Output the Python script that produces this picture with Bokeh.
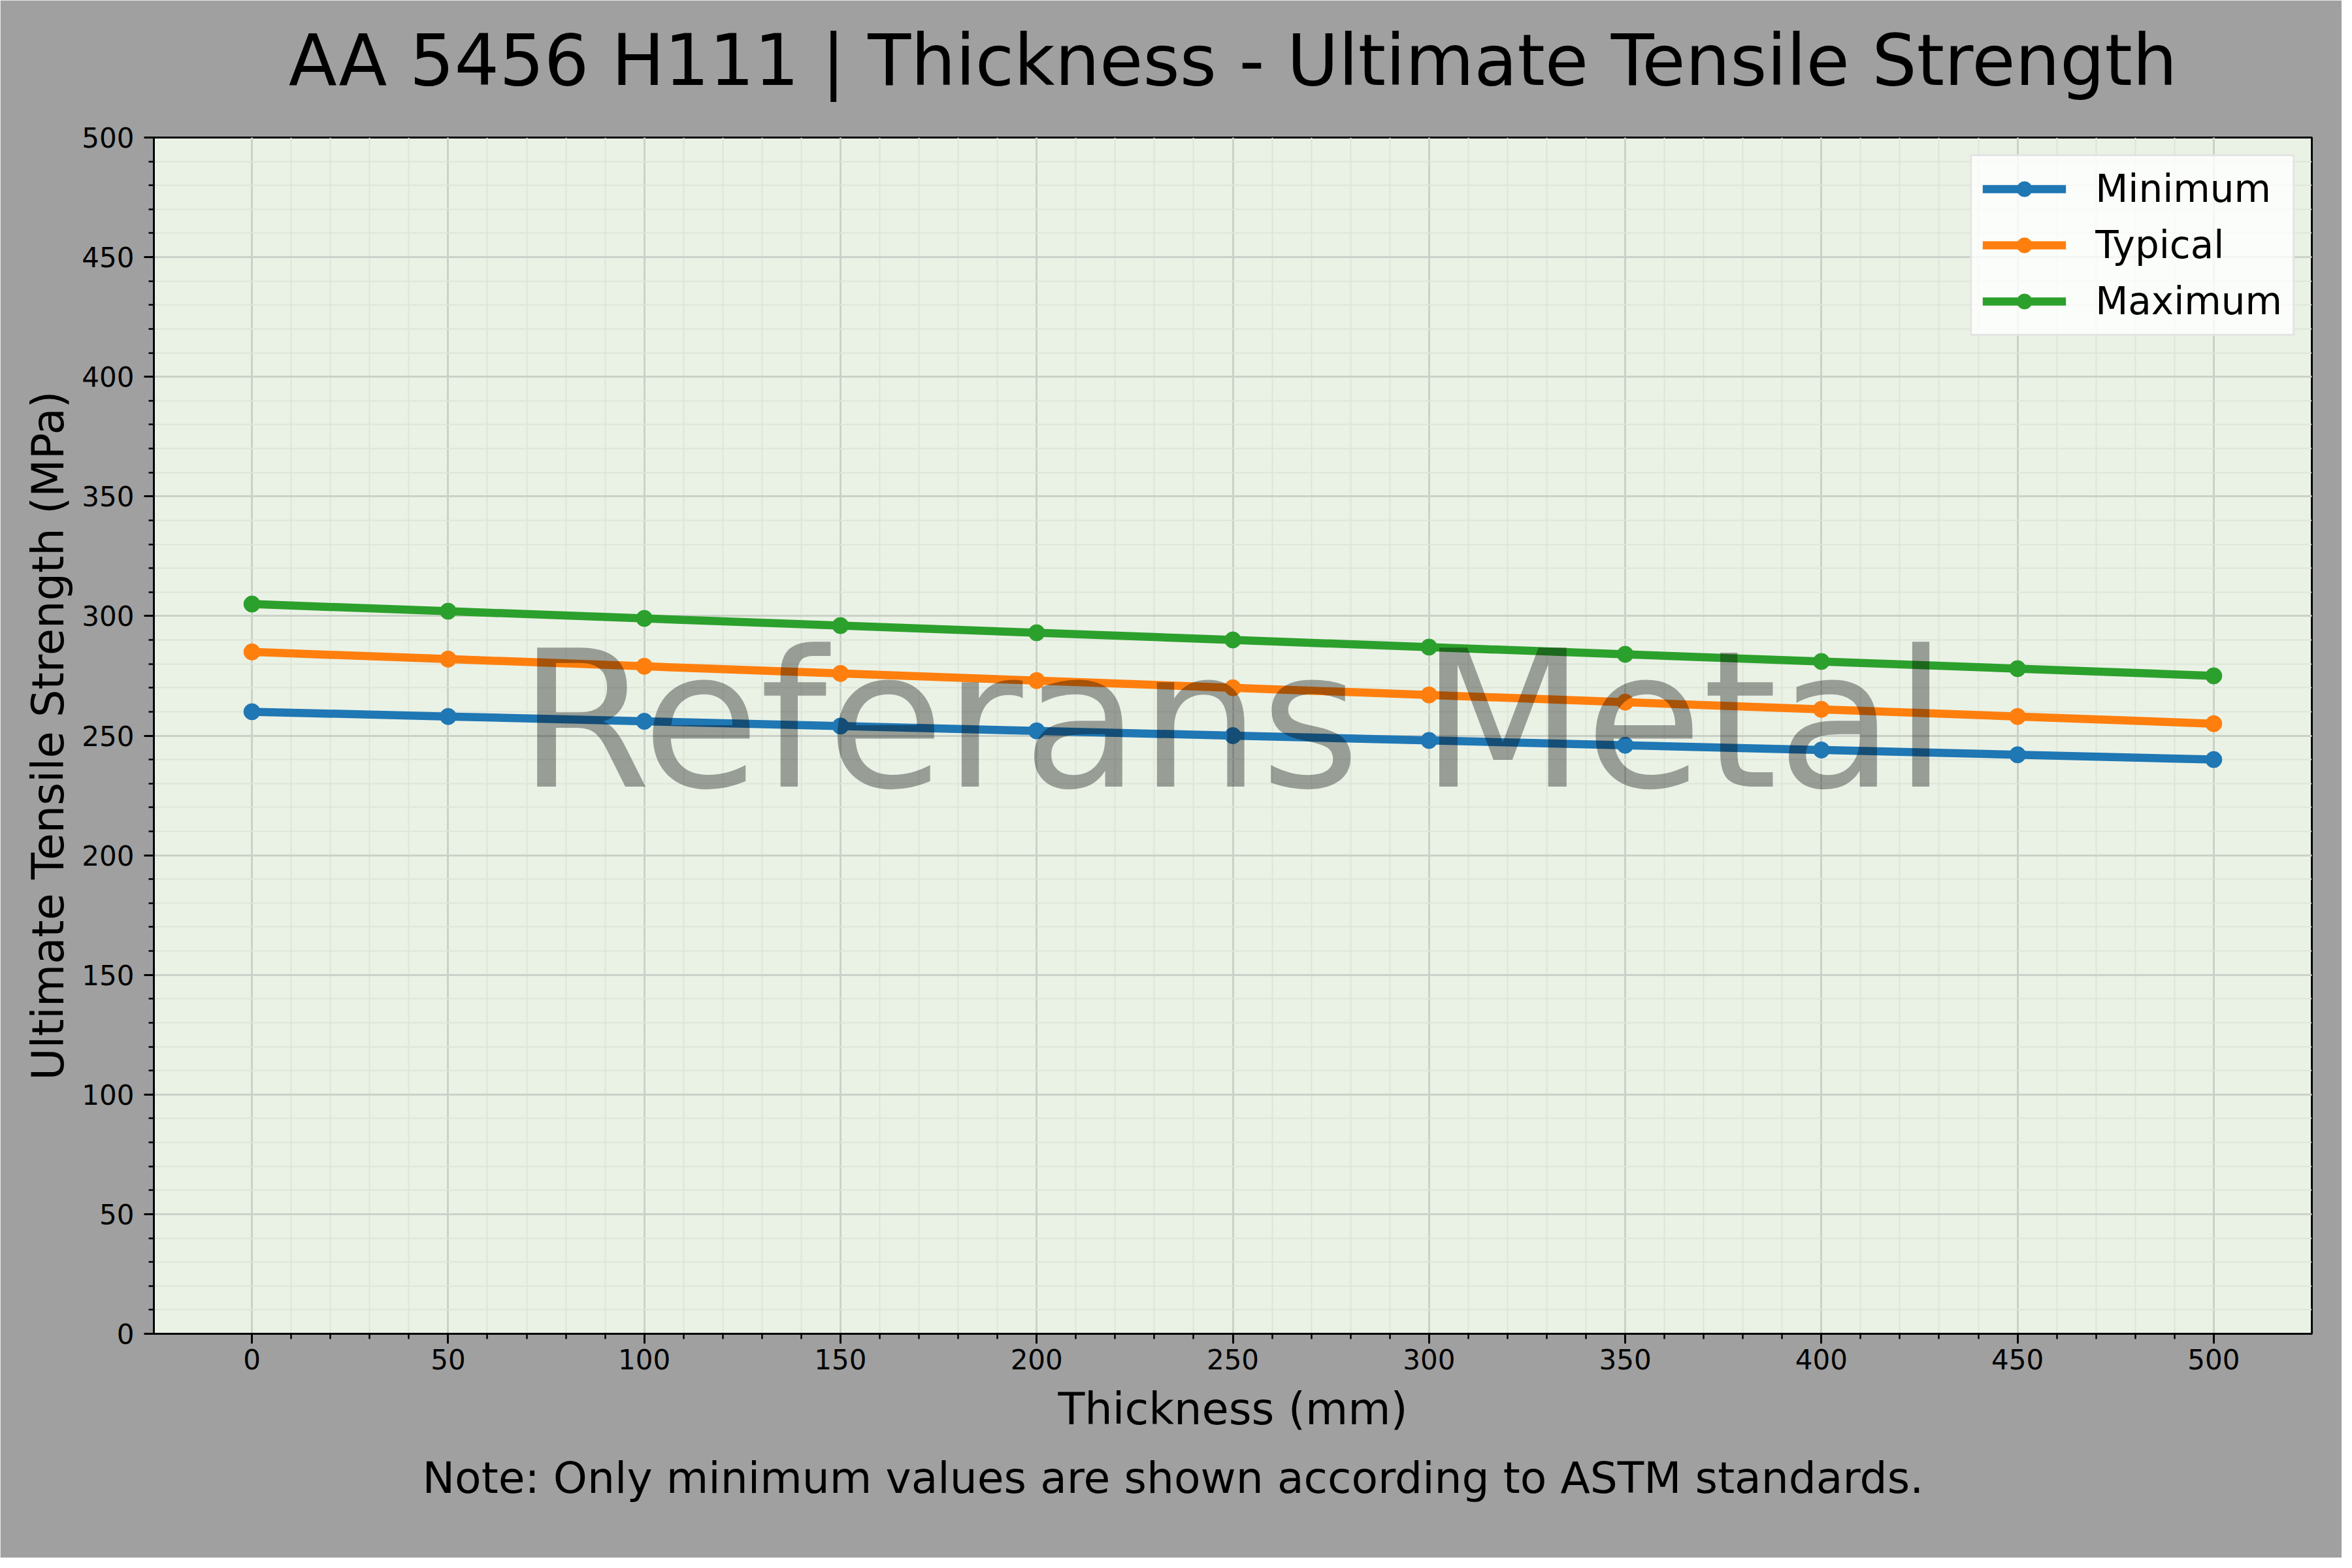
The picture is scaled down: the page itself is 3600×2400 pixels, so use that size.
from bokeh.plotting import figure
from bokeh.models import Range1d, FixedTicker, Legend, LegendItem, Label, Title
from bokeh.embed import file_html
from bokeh.resources import INLINE

# ---- data ----
thickness = [0, 50, 100, 150, 200, 250, 300, 350, 400, 450, 500]
minimum = [260, 258, 256, 254, 252, 250, 248, 246, 244, 242, 240]
typical = [285, 282, 279, 276, 273, 270, 267, 264, 261, 258, 255]
maximum = [305, 302, 299, 296, 293, 290, 287, 284, 281, 278, 275]
series_names = ["Minimum", "Typical", "Maximum"]
series_colors = ["#1f77b4", "#ff7f0e", "#2ca02c"]
x_major = list(range(0, 501, 50))
x_minor = list(range(0, 501, 10))
y_major = list(range(0, 501, 50))
y_minor = list(range(0, 501, 10))

title_text = "AA 5456 H111 | Thickness - Ultimate Tensile Strength"
x_label = "Thickness (mm)"
y_label = "Ultimate Tensile Strength (MPa)"
note_text = "Note: Only minimum values are shown according to ASTM standards."
watermark = "Referans Metal"

FONT = "DejaVu Sans"

W, H = 3584, 2384
BL, BR, BT, BB = 235, 46, 210, 343
FRAME_W = W - BL - BR

p = figure(width=W, height=H, output_backend="svg", toolbar_location=None,
           title_location=None,
           x_range=Range1d(-25, 525), y_range=Range1d(0, 500),
           min_border_left=BL, min_border_right=BR, min_border_top=BT,
           min_border_bottom=BB)
p.background_fill_color = "#eaf2e6"
p.border_fill_color = "#a0a0a0"
p.outline_line_color = "black"
p.outline_line_width = 3

# axes
p.xaxis.ticker = FixedTicker(ticks=x_major, minor_ticks=x_minor)
p.yaxis.ticker = FixedTicker(ticks=y_major, minor_ticks=y_minor)
for ax in (p.xaxis[0], p.yaxis[0]):
    ax.axis_line_width = 3
    ax.axis_line_color = "black"
    ax.major_tick_line_width = 3
    ax.minor_tick_line_width = 2.5
    ax.major_tick_out = 15
    ax.major_tick_in = 0
    ax.minor_tick_out = 8
    ax.minor_tick_in = 0
    ax.major_label_text_font = FONT
    ax.major_label_text_font_size = "42px"
    ax.major_label_text_color = "black"
    ax.axis_label_text_font = FONT
    ax.axis_label_text_font_size = "67px"
    ax.axis_label_text_font_style = "normal"
    ax.axis_label_text_color = "black"
p.xaxis.axis_label = x_label
p.yaxis.axis_label = y_label
p.xaxis.major_label_standoff = 8
p.yaxis.major_label_standoff = 15
p.xaxis.axis_label_standoff = 19
p.yaxis.axis_label_standoff = 9

# grid
for g in (p.xgrid[0], p.ygrid[0]):
    g.grid_line_color = "#cbd1c8"
    g.grid_line_width = 3
    g.minor_grid_line_color = "#dde5d9"
    g.minor_grid_line_width = 2

# series
items = []
for name, color, vals in zip(series_names, series_colors, [minimum, typical, maximum]):
    lr = p.line(thickness, vals, line_color=color, line_width=12.5)
    sr = p.scatter(thickness, vals, size=25, fill_color=color, line_color=color, marker="circle")
    items.append(LegendItem(label=name, renderers=[lr, sr]))

legend = Legend(items=items, location="top_right", margin=26,
                label_text_font=FONT, label_text_font_size="58px",
                label_text_color="black",
                glyph_width=128, glyph_height=58, label_height=58,
                label_standoff=45, spacing=18, padding=16,
                background_fill_color="white", background_fill_alpha=0.8,
                border_line_color="#cccccc", border_line_width=3)
p.add_layout(legend)

# watermark
wm = Label(x=(p.x_range.start + p.x_range.end) / 2, y=(p.y_range.start + p.y_range.end) / 2,
           y_offset=23,
           text=watermark, text_font=FONT, text_font_size="292px",
           text_align="center", text_baseline="middle",
           text_color="black", text_alpha=0.35)
p.add_layout(wm)

# title placed in the top side panel, in screen units
title = Label(x=FRAME_W / 2, y=118, x_units="screen", y_units="screen",
              text=title_text, text_font=FONT, text_font_size="108px",
              text_align="center", text_baseline="alphabetic", text_color="black")
p.add_layout(title, "above")

# note
note = Title(text=note_text, text_font=FONT, text_font_size="66.3px",
             text_font_style="normal", text_color="black", align="left",
             offset=411, standoff=44)
p.add_layout(note, "below")

open("out.html", "w").write(file_html(p, INLINE))
